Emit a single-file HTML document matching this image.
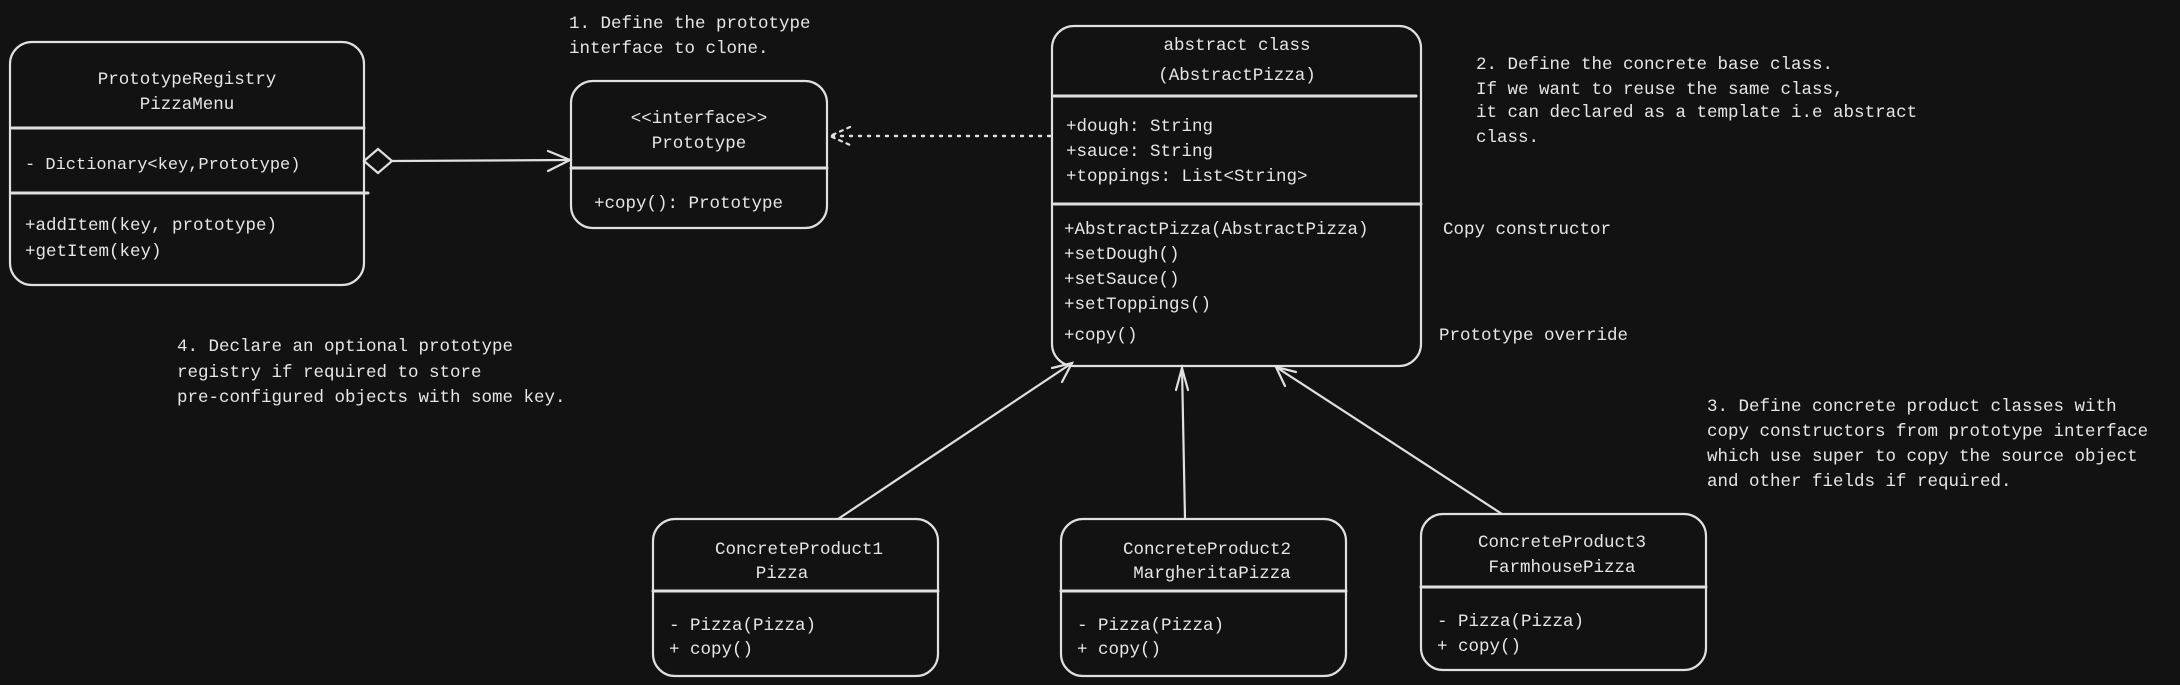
<!DOCTYPE html>
<html><head><meta charset="utf-8"><style>
html,body{margin:0;padding:0;background:#121212;}
svg{display:block;}
text{font-family:"Liberation Mono",monospace;font-size:17.5px;fill:#e6e6e6;}
.c{text-anchor:middle;}
</style></head><body>
<svg width="2180" height="685" viewBox="0 0 2180 685" xmlns="http://www.w3.org/2000/svg">
<rect width="2180" height="685" fill="#121212"/>
<g fill="none" stroke="#e0e0e0" stroke-width="2.2" stroke-linecap="round">
<rect x="10" y="42" width="354" height="243" rx="22"/>
<line x1="12" y1="128" x2="364" y2="128" stroke-width="3"/>
<line x1="12" y1="193" x2="368" y2="193" stroke-width="3"/>
<rect x="571" y="81" width="256" height="147" rx="22"/>
<line x1="571" y1="168" x2="827" y2="168" stroke-width="3"/>
<rect x="1052" y="26" width="369" height="340" rx="22"/>
<line x1="1054" y1="96" x2="1416" y2="96" stroke-width="3"/>
<line x1="1054" y1="204" x2="1421" y2="204" stroke-width="3"/>
<rect x="653" y="519" width="285" height="157" rx="22"/>
<line x1="653" y1="591" x2="938" y2="591" stroke-width="3"/>
<rect x="1061" y="519" width="285" height="157" rx="22"/>
<line x1="1061" y1="591" x2="1346" y2="591" stroke-width="3"/>
<rect x="1421" y="514" width="285" height="156" rx="22"/>
<line x1="1421" y1="587" x2="1706" y2="587" stroke-width="3"/>
<path d="M364 161 L378 149 L392 161 L378 173 Z"/>
<line x1="392" y1="161" x2="570" y2="160"/>
<path d="M548 151 L570 160 L548 171"/>
<line x1="1050" y1="136" x2="832" y2="136" stroke-dasharray="2 7" stroke-width="2.4"/>
<path d="M850 127 L830 136 L850 145" stroke-dasharray="3 5"/>
<line x1="838" y1="519" x2="1072" y2="363"/>
<path d="M1052 368 L1072 363 L1062 382"/>
<line x1="1185" y1="519" x2="1182" y2="368"/>
<path d="M1176 390 L1182 368 L1188 390"/>
<line x1="1502" y1="514" x2="1276" y2="367"/>
<path d="M1296 372 L1276 367 L1285 386"/>
</g>
<text class="c" x="187" y="84">PrototypeRegistry</text>
<text class="c" x="187" y="109">PizzaMenu</text>
<text x="25" y="169" style="font-size:17px">- Dictionary&lt;key,Prototype)</text>
<text x="25" y="230">+addItem(key, prototype)</text>
<text x="25" y="256">+getItem(key)</text>
<text class="c" x="699" y="123">&lt;&lt;interface&gt;&gt;</text>
<text class="c" x="699" y="148">Prototype</text>
<text x="594" y="208">+copy(): Prototype</text>
<text x="569" y="28">1. Define the prototype</text>
<text x="569" y="53">interface to clone.</text>
<text class="c" x="1237" y="50">abstract class</text>
<text class="c" x="1237" y="80">(AbstractPizza)</text>
<text x="1066" y="131">+dough: String</text>
<text x="1066" y="156">+sauce: String</text>
<text x="1066" y="181">+toppings: List&lt;String&gt;</text>
<text x="1064" y="234">+AbstractPizza(AbstractPizza)</text>
<text x="1064" y="259">+setDough()</text>
<text x="1064" y="284">+setSauce()</text>
<text x="1064" y="309">+setToppings()</text>
<text x="1064" y="340">+copy()</text>
<text x="1443" y="234">Copy constructor</text>
<text x="1439" y="340">Prototype override</text>
<text x="1476" y="69">2. Define the concrete base class.</text>
<text x="1476" y="94">If we want to reuse the same class,</text>
<text x="1476" y="117">it can declared as a template i.e abstract</text>
<text x="1476" y="142">class.</text>
<text x="1707" y="411">3. Define concrete product classes with</text>
<text x="1707" y="436">copy constructors from prototype interface</text>
<text x="1707" y="461">which use super to copy the source object</text>
<text x="1707" y="486">and other fields if required.</text>
<text x="177" y="351">4. Declare an optional prototype</text>
<text x="177" y="377">registry if required to store</text>
<text x="177" y="402">pre-configured objects with some key.</text>
<text class="c" x="799" y="554">ConcreteProduct1</text>
<text class="c" x="782" y="578">Pizza</text>
<text x="669" y="630">- Pizza(Pizza)</text>
<text x="669" y="654">+ copy()</text>
<text class="c" x="1207" y="554">ConcreteProduct2</text>
<text class="c" x="1212" y="578">MargheritaPizza</text>
<text x="1077" y="630">- Pizza(Pizza)</text>
<text x="1077" y="654">+ copy()</text>
<text class="c" x="1562" y="547">ConcreteProduct3</text>
<text class="c" x="1562" y="572">FarmhousePizza</text>
<text x="1437" y="626">- Pizza(Pizza)</text>
<text x="1437" y="651">+ copy()</text>
</svg>
</body></html>
